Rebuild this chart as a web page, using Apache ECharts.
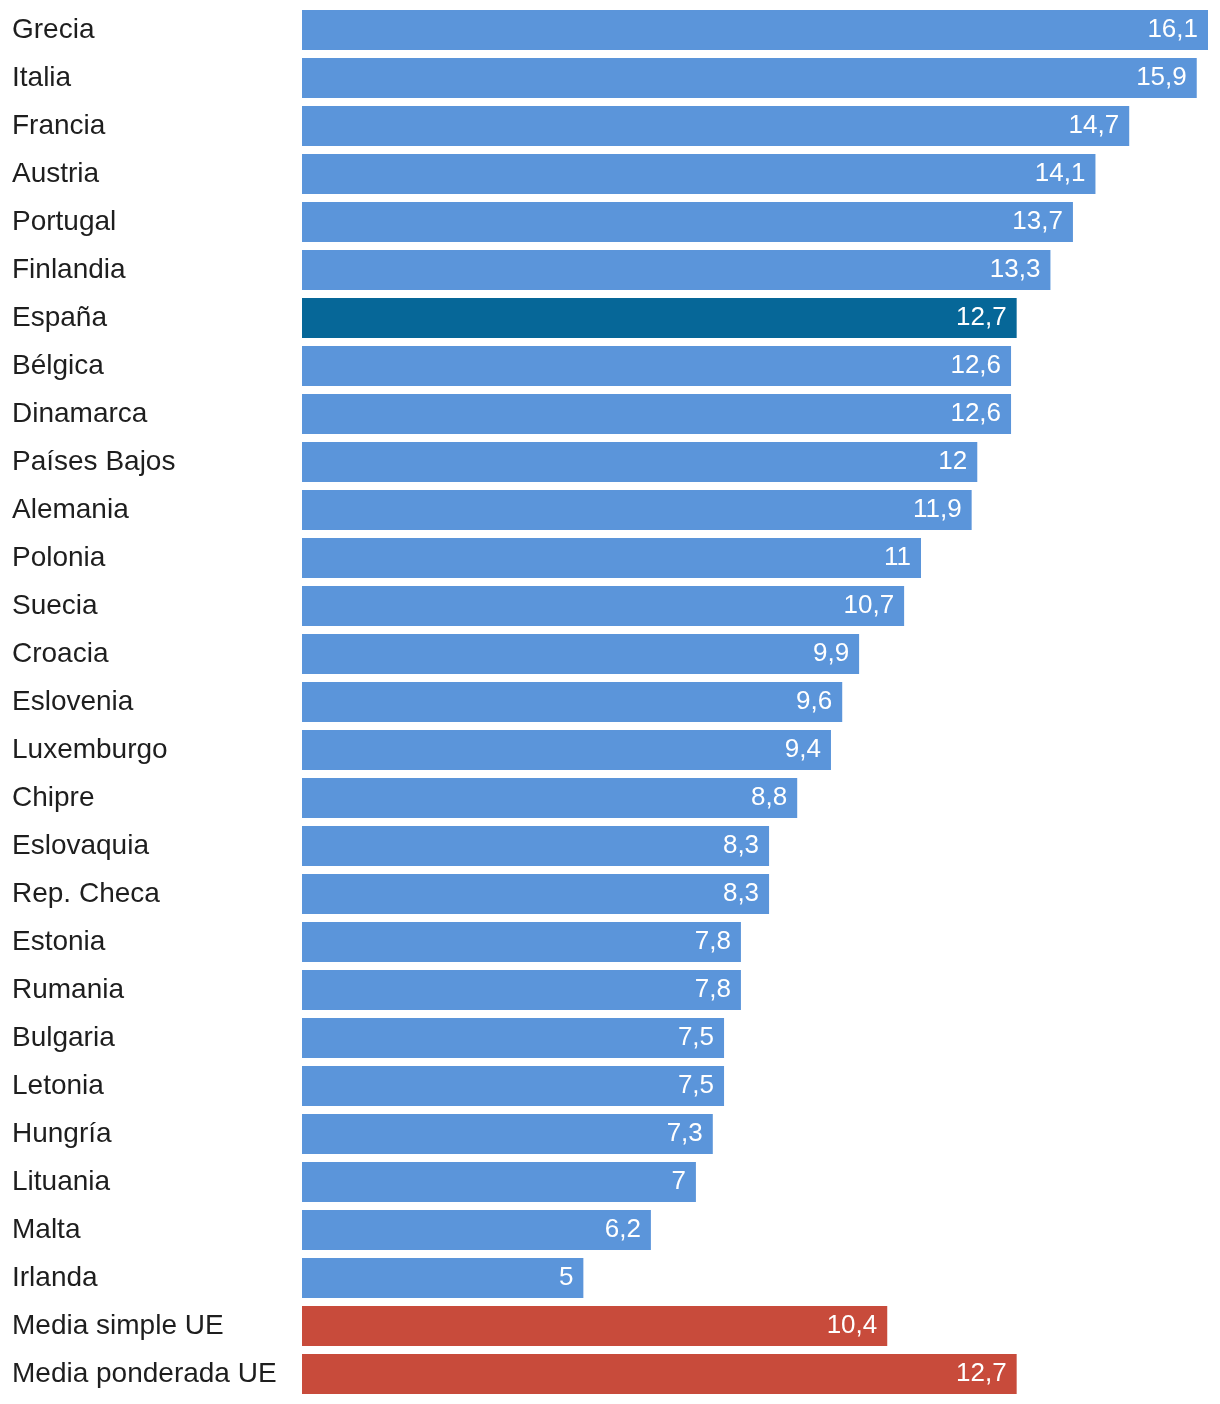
<!DOCTYPE html>
<html><head><meta charset="utf-8">
<script src="https://cdn.jsdelivr.net/npm/echarts@6/dist/echarts.min.js"></script>
<style>html,body{margin:0;padding:0;background:#fff}#c{width:1220px;height:1404px}</style>
</head><body><div id="c"></div>
<script>
const categories = ["Grecia","Italia","Francia","Austria","Portugal","Finlandia","España","Bélgica","Dinamarca","Países Bajos","Alemania","Polonia","Suecia","Croacia","Eslovenia","Luxemburgo","Chipre","Eslovaquia","Rep. Checa","Estonia","Rumania","Bulgaria","Letonia","Hungría","Lituania","Malta","Irlanda","Media simple UE","Media ponderada UE"];
const values = [16.1,15.9,14.7,14.1,13.7,13.3,12.7,12.6,12.6,12,11.9,11,10.7,9.9,9.6,9.4,8.8,8.3,8.3,7.8,7.8,7.5,7.5,7.3,7,6.2,5,10.4,12.7];
const highlight = {"España":"#066798","Media simple UE":"#c84b3b","Media ponderada UE":"#c84b3b"};
const baseColor = "#5b95da";

const chart = echarts.init(document.getElementById('c'));
chart.setOption({
  animation:false,
  grid:{left:302,right:12,top:6,bottom:6,containLabel:false},
  xAxis:{type:'value',min:0,max:16.1,show:false},
  yAxis:{type:'category',data:categories,inverse:true,
    axisLine:{show:false},axisTick:{show:false},
    axisLabel:{align:'left',margin:290,color:'#1e1e1e',fontSize:28,fontFamily:'Liberation Sans'}},
  series:[{type:'bar',barCategoryGap:'16.7%',
    data:values.map((v,i)=>({value:v,itemStyle:{color:highlight[categories[i]]||baseColor}})),
    label:{show:true,position:'insideRight',distance:10,color:'#fff',fontSize:26,fontFamily:'Liberation Sans',
      formatter:p=>String(p.value).replace('.',',')}
  }]
});
</script></body></html>
